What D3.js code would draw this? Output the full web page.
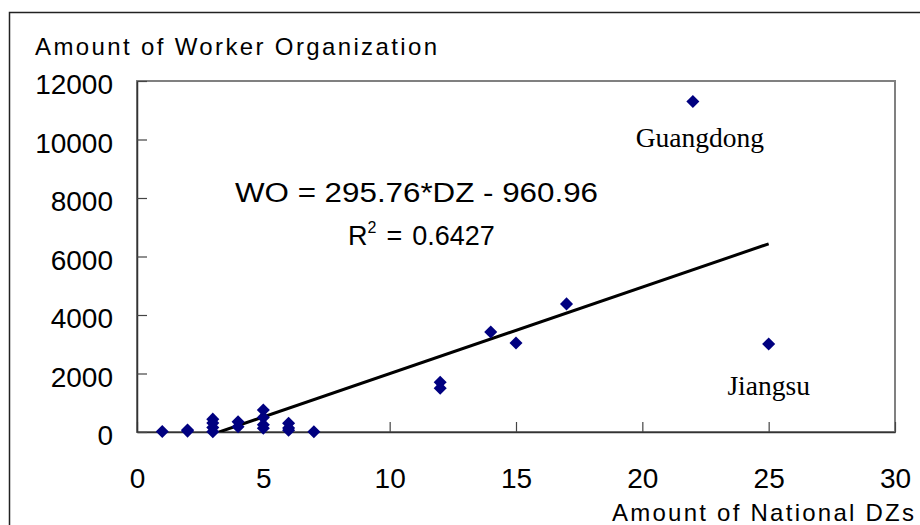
<!DOCTYPE html>
<html>
<head>
<meta charset="utf-8">
<script src="https://cdn.jsdelivr.net/npm/d3@7"></script>
<style>
  html, body { margin: 0; padding: 0; background: #fff; }
  svg { display: block; }
</style>
</head>
<body>
<svg id="chart" width="920" height="525"></svg>
<script>
// ---- Data ----
const dzValues = [1, 2, 2, 3, 3, 3, 3, 4, 4, 5, 5, 5, 5, 6, 6, 6, 7, 12, 12, 14, 15, 17, 22, 25];
const woValues = [20, 30, 70, 10, 150, 310, 440, 180, 350, 130, 250, 500, 750, 60, 140, 300, 10, 1500, 1700, 3420, 3040, 4380, 11300, 3010];
const xTicks = [0, 5, 10, 15, 20, 25, 30];
const yTicks = [0, 2000, 4000, 6000, 8000, 10000, 12000];
const trendSlope = 295.76;
const trendIntercept = -960.96;
const trendRange = [1, 25];
const annotations = [
  { name: "Guangdong", dz: 22, wo: 11300 },
  { name: "Jiangsu", dz: 25, wo: 3010 }
];
const yTitle = "Amount of Worker Organization";
const xTitle = "Amount of National DZs";
const eqLine1 = "WO = 295.76*DZ - 960.96";
const r2Value = "0.6427";

// ---- Layout ----
const svg = d3.select("#chart");
const plot = { left: 137, top: 81, right: 895, bottom: 432 };

const x = d3.scaleLinear().domain([0, 30]).range([plot.left, plot.right]);
const y = d3.scaleLinear().domain([0, 12000]).range([plot.bottom, plot.top]);

// outer chart border (extends beyond the window)
svg.append("rect")
  .attr("x", 9.5).attr("y", 12.5)
  .attr("width", 1000).attr("height", 600)
  .attr("fill", "none").attr("stroke", "#222").attr("stroke-width", 1.5);

// plot frame
svg.append("rect")
  .attr("x", plot.left).attr("y", plot.top)
  .attr("width", plot.right - plot.left).attr("height", plot.bottom - plot.top)
  .attr("fill", "#fff").attr("stroke", "#808080").attr("stroke-width", 2);

// clip
svg.append("clipPath").attr("id", "plotClip")
  .append("rect")
  .attr("x", plot.left).attr("y", plot.top)
  .attr("width", plot.right - plot.left).attr("height", plot.bottom - plot.top);

// axes
const xAxis = d3.axisBottom(x).tickValues(xTicks).tickSizeInner(-10).tickSizeOuter(0).tickPadding(24);
const yAxis = d3.axisLeft(y).tickValues(yTicks).tickSizeInner(-10).tickSizeOuter(0).tickPadding(24).tickFormat(d3.format("d"));

const gx = svg.append("g").attr("transform", `translate(0,${plot.bottom})`).call(xAxis);
const gy = svg.append("g").attr("transform", `translate(${plot.left},0)`).call(yAxis);

[gx, gy].forEach(g => {
  g.select(".domain").attr("stroke", "#333").attr("stroke-width", 1.5);
  g.selectAll(".tick line").attr("stroke", "#444").attr("stroke-width", 1.2);
  g.selectAll(".tick text")
    .attr("font-family", "'Liberation Sans', Arial, sans-serif")
    .attr("font-size", 28).attr("fill", "#000");
});
gx.selectAll(".tick text").attr("y", 56).attr("dy", "0");
gy.selectAll(".tick text").attr("x", -24).attr("dy", "0.45em");

// trendline
const trendData = trendRange.map(d => ({ dz: d, wo: trendSlope * d + trendIntercept }));
svg.append("path")
  .datum(trendData)
  .attr("clip-path", "url(#plotClip)")
  .attr("fill", "none").attr("stroke", "#000").attr("stroke-width", 3)
  .attr("d", d3.line().x(d => x(d.dz)).y(d => y(d.wo)));

// points
const pts = dzValues.map((d, i) => ({ dz: d, wo: woValues[i] }));
svg.append("g").selectAll("path")
  .data(pts).join("path")
  .attr("transform", d => `translate(${x(d.dz)},${y(d.wo)}) rotate(45)`)
  .attr("d", d3.symbol(d3.symbolSquare, 85))
  .attr("fill", "#000080");

// annotations
const annOffsets = { "Guangdong": [7, 46], "Jiangsu": [0, 51] };
svg.append("g").selectAll("text")
  .data(annotations).join("text")
  .attr("x", d => x(d.dz) + annOffsets[d.name][0])
  .attr("y", d => y(d.wo) + annOffsets[d.name][1])
  .attr("text-anchor", "middle")
  .attr("font-family", "'Liberation Serif', 'Times New Roman', serif")
  .attr("font-size", 27.5)
  .attr("fill", "#000")
  .text(d => d.name);

// axis titles
svg.append("text")
  .attr("x", 35).attr("y", 55)
  .attr("font-family", "'Liberation Sans', Arial, sans-serif")
  .attr("font-size", 24)
  .attr("textLength", 402).attr("lengthAdjust", "spacing")
  .text(yTitle);

svg.append("text")
  .attr("x", 612).attr("y", 521)
  .attr("font-family", "'Liberation Sans', Arial, sans-serif")
  .attr("font-size", 24)
  .attr("textLength", 302).attr("lengthAdjust", "spacing")
  .text(xTitle);

// equation
svg.append("text")
  .attr("x", 235).attr("y", 202)
  .attr("font-family", "'Liberation Sans', Arial, sans-serif")
  .attr("font-size", 27)
  .attr("textLength", 363).attr("lengthAdjust", "spacingAndGlyphs")
  .text(eqLine1);

const r2 = svg.append("text")
  .attr("x", 348).attr("y", 245)
  .attr("font-family", "'Liberation Sans', Arial, sans-serif")
  .attr("font-size", 27);
r2.append("tspan").text("R");
r2.append("tspan").attr("font-size", 16).attr("dy", -12).attr("dx", 0).text("2");
r2.append("tspan").attr("dy", 12).attr("dx", 10).text("=");
r2.append("tspan").attr("dx", 10).text(r2Value);
</script>
</body>
</html>
